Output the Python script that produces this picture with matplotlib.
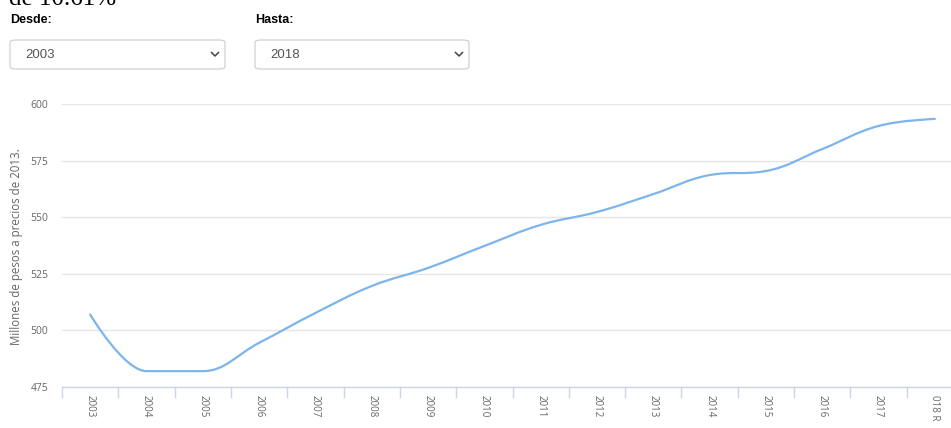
import matplotlib
matplotlib.use("Agg")
import matplotlib.pyplot as plt
from matplotlib.path import Path
from matplotlib.patches import PathPatch, FancyBboxPatch
from matplotlib.lines import Line2D

years = ["2003", "2004", "2005", "2006", "2007", "2008", "2009", "2010",
         "2011", "2012", "2013", "2014", "2015", "2016", "2017", "018 R"]
values = [507.0, 482.0, 482.0, 494.5, 507.7, 519.6, 527.6, 537.3,
          546.6, 552.3, 560.2, 568.6, 570.4, 580.1, 590.3, 593.4]
yticks = [475, 500, 525, 550, 575, 600]

W, H = 951, 428
fig = plt.figure(figsize=(W / 100, H / 100), dpi=100)

def fx(px):
    return px / W

def fy(py):
    return 1 - py / H

# plot area (right edge runs past the screenshot)
left, right, top, bottom = 62, 963, 104, 387
ax = fig.add_axes([fx(left), fy(bottom), (right - left) / W, (bottom - top) / H])


def spline_path(xs, ys, smoothing=1.5):
    # highcharts-like spline segments
    verts = [(xs[0], ys[0])]
    codes = [Path.MOVETO]
    n = len(xs)
    ctrl = []
    for i in range(n):
        if i == 0 or i == n - 1:
            ctrl.append(((xs[i], ys[i]), (xs[i], ys[i])))
            continue
        d = smoothing + 1
        lx = (smoothing * xs[i] + xs[i - 1]) / d
        ly = (smoothing * ys[i] + ys[i - 1]) / d
        rx = (smoothing * xs[i] + xs[i + 1]) / d
        ry = (smoothing * ys[i] + ys[i + 1]) / d
        corr = ((ry - ly) * (rx - xs[i])) / (rx - lx) + ys[i] - ry
        ly += corr
        ry += corr
        if ly > ys[i - 1] and ly > ys[i]:
            ly = max(ys[i - 1], ys[i]); ry = 2 * ys[i] - ly
        elif ly < ys[i - 1] and ly < ys[i]:
            ly = min(ys[i - 1], ys[i]); ry = 2 * ys[i] - ly
        if ry > ys[i + 1] and ry > ys[i]:
            ry = max(ys[i + 1], ys[i]); ly = 2 * ys[i] - ry
        elif ry < ys[i + 1] and ry < ys[i]:
            ry = min(ys[i + 1], ys[i]); ly = 2 * ys[i] - ry
        ctrl.append(((lx, ly), (rx, ry)))
    for i in range(1, n):
        verts += [ctrl[i - 1][1], ctrl[i][0], (xs[i], ys[i])]
        codes += [Path.CURVE4] * 3
    return Path(verts, codes)


xs = list(range(len(values)))
ax.add_patch(PathPatch(spline_path(xs, values), facecolor="none",
                       edgecolor="#7cb5ec", lw=1.6, capstyle="round", joinstyle="round"))

ax.set_xlim(-0.5, len(values) - 0.5)
ax.set_ylim(475, 600)
ax.set_yticks(yticks)
ax.set_xticks(xs)
ax.set_xticklabels(years, rotation=-90, fontsize=7, color="#666666", family="Open Sans")
ax.tick_params(axis="x", length=0, pad=6)
ax.tick_params(axis="y", length=0, pad=10, labelsize=7.5, labelcolor="#666666")
for t in ax.get_yticklabels():
    t.set_family("Open Sans")
ax.grid(axis="y", color="#e6e6e6", lw=1)
ax.set_axisbelow(True)
for s in ["top", "right", "left"]:
    ax.spines[s].set_visible(False)
ax.spines["bottom"].set_color("#ccd6eb")
ax.spines["bottom"].set_linewidth(1)

# category boundary ticks
tick_x = [left + (right - left) / len(values) * k for k in range(len(values) + 1)]
for px in tick_x:
    fig.add_artist(Line2D([fx(px), fx(px)], [fy(bottom), fy(bottom + 10)], color="#ccd6eb", lw=1))

fig.text(fx(17), fy(247), "Millones de pesos a precios de 2013.", rotation=90,
         ha="center", va="center", fontsize=8.3, color="#666666", family="Open Sans")

# header bits
fig.text(fx(9), fy(5), "de 10.61%", fontsize=18, family="Liberation Serif",
         color="black", va="baseline", ha="left")
fig.text(fx(10), fy(20), "Desde:", fontsize=9, weight="bold", family="Liberation Sans",
         va="center", ha="left")
fig.text(fx(255), fy(20), "Hasta:", fontsize=9, weight="bold", family="Liberation Sans",
         va="center", ha="left")
for x0, x1, txt in [(10, 225, "2003"), (255, 469, "2018")]:
    fig.add_artist(FancyBboxPatch((fx(x0), fy(69)), fx(x1 - x0), (69 - 40) / H,
                                  boxstyle="round,pad=0,rounding_size=0.006",
                                  facecolor="white", edgecolor="#cccccc", lw=0.8))
    fig.text(fx(x0 + 15), fy(54.5), txt, fontsize=9.5, color="#555555",
             family="Liberation Sans", va="center", ha="left")
    cx = x1 - 10
    fig.add_artist(Line2D([fx(cx - 3.5), fx(cx), fx(cx + 3.5)], [fy(52.5), fy(56), fy(52.5)],
                          color="#444444", lw=1.1))

fig.savefig("out.png", dpi=100)
